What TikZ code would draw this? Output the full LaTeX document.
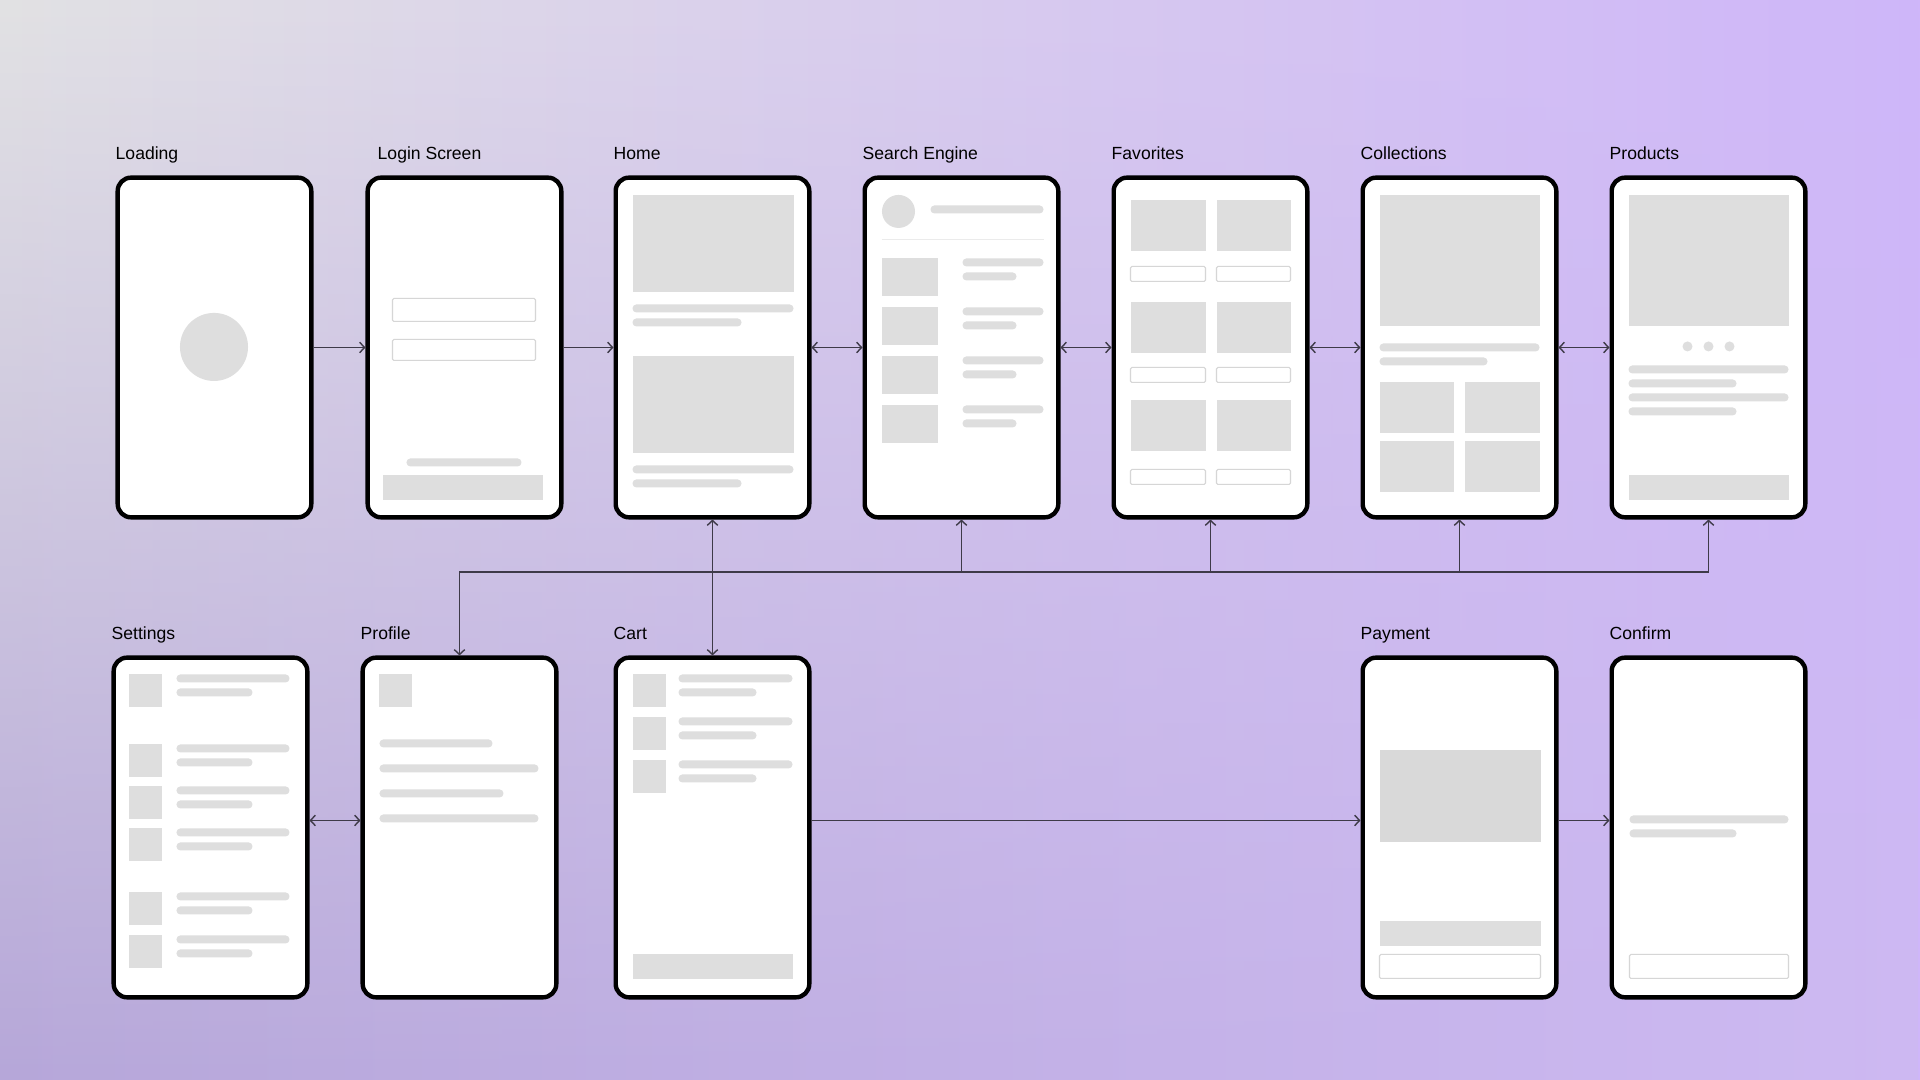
\documentclass[tikz,border=0pt]{standalone}
\usepackage{fontspec}
\setmainfont{Liberation Sans}
\usetikzlibrary{positioning,fadings,arrows.meta}

\definecolor{bgTL}{RGB}{226,226,228}
\definecolor{bgTR}{RGB}{207,182,250}
\definecolor{bgBL}{RGB}{182,167,217}
\definecolor{bgBR}{RGB}{205,185,242}
\definecolor{ph}{RGB}{222,222,222}
\definecolor{phdark}{RGB}{217,217,217}
\definecolor{phline}{RGB}{214,214,214}
\definecolor{wire}{RGB}{62,58,72}

\tikzset{
  screen/.style={draw=black, fill=white, line width=1.25pt, rounded corners=3.8pt,
    minimum width=1.935cm, minimum height=3.395cm, inner sep=0pt},
  title/.style={anchor=base west, inner sep=0pt, font=\fontsize{5pt}{6pt}\selectfont},
  block/.style={fill=ph},
  pill/.style={fill=ph, rounded corners=1.1pt},
  field/.style={draw=phline, fill=white, line width=0.3pt, rounded corners=0.4pt},
  wire/.style={draw=wire, line width=0.4pt, >={Straight Barb[length=1.4pt,width=3pt]}}
}

\begin{document}
\begin{tikzpicture}[x=0.01cm, y=-0.01cm]
    % Canvas and background gradient
    \useasboundingbox (0,0) rectangle (1920,1080);
    \shade[left color=bgTL, right color=bgTR] (0,0) rectangle (1920,1080);
    \shade[left color=bgBL, right color=bgBR, path fading=north] (0,0) rectangle (1920,1080);

    % Screen frames with titles
    \foreach \name/\lbl/\x/\y/\dx in {
        loading/Loading/116/176/0, login/Login Screen/366/176/12, home/Home/614/176/0,
        search/Search Engine/863/176/0, favorites/Favorites/1112/176/0,
        collections/Collections/1361/176/0, products/Products/1610/176/0,
        settings/Settings/112/656/0, profile/Profile/361/656/0, cart/Cart/614/656/0,
        payment/Payment/1361/656/0, confirm/Confirm/1610/656/0}{
        \node[screen] (\name) at (\x+98.5,\y+171.5) {};
        \node[title] at (\x+\dx-1,\y-16) {\lbl};
    }

    % Loading
    \fill[ph] ([shift={(98.5,171.5)}]loading.north west) circle[radius=0.34cm];

    % Login Screen
    \begin{scope}[shift={(login.north west)}]
        \draw[field] (27,123) rectangle (170,146);
        \draw[field] (27,164) rectangle (170,185);
        \fill[pill] (41,283) rectangle (156,291);
        \fill[block] (18,300) rectangle (178,325);
    \end{scope}

    % Home
    \begin{scope}[shift={(home.north west)}]
        \fill[block] (19,20) rectangle (180,117);
        \fill[pill] (19,129) rectangle (180,137);
        \fill[pill] (19,143) rectangle (128,151);
        \fill[block] (19,181) rectangle (180,278);
        \fill[pill] (19,290) rectangle (180,298);
        \fill[pill] (19,304) rectangle (128,312);
    \end{scope}

    % Search Engine
    \begin{scope}[shift={(search.north west)}]
        \fill[ph] (36,36) circle[radius=0.165cm];
        \fill[pill] (68,30) rectangle (181,38);
        \draw[ph!60, line width=0.5pt] (19,64) -- (181,64);
        \foreach \t in {83,132,181,230}{
            \fill[block] (19,\t) rectangle (75,\t+38);
            \fill[pill] (100,\t) rectangle (181,\t+8);
            \fill[pill] (100,\t+14) rectangle (154,\t+22);
        }
    \end{scope}

    % Favorites
    \begin{scope}[shift={(favorites.north west)}]
        \foreach \t/\b in {25/91, 127/192, 225/294}{
            \fill[block] (19,\t) rectangle (94,\t+51);
            \fill[block] (105,\t) rectangle (179,\t+51);
            \draw[field] (19,\b) rectangle (94,\b+15);
            \draw[field] (105,\b) rectangle (179,\b+15);
        }
    \end{scope}

    % Collections
    \begin{scope}[shift={(collections.north west)}]
        \fill[block] (19,20) rectangle (179,151);
        \fill[pill] (19,168) rectangle (179,176);
        \fill[pill] (19,182) rectangle (127,190);
        \foreach \t in {207,266}{
            \fill[block] (19,\t) rectangle (93,\t+51);
            \fill[block] (104,\t) rectangle (179,\t+51);
        }
    \end{scope}

    % Products
    \begin{scope}[shift={(products.north west)}]
        \fill[block] (19,20) rectangle (179,151);
        \foreach \d in {78,99,120}{
            \fill[ph] (\d,171) circle[radius=0.05cm];
        }
        \fill[pill] (19,190) rectangle (179,198);
        \fill[pill] (19,204) rectangle (127,212);
        \fill[pill] (19,218) rectangle (179,226);
        \fill[pill] (19,232) rectangle (127,240);
        \fill[block] (19,300) rectangle (179,325);
    \end{scope}

    % Settings
    \begin{scope}[shift={(settings.north west)}]
        \foreach \t in {19,89,131,173,237,280}{
            \fill[block] (18,\t) rectangle (51,\t+33);
            \fill[pill] (65,\t) rectangle (178,\t+8);
            \fill[pill] (65,\t+14) rectangle (141,\t+22);
        }
    \end{scope}

    % Profile
    \begin{scope}[shift={(profile.north west)}]
        \fill[block] (19,19) rectangle (52,52);
        \fill[pill] (19,84) rectangle (132,92);
        \fill[pill] (19,109) rectangle (178,117);
        \fill[pill] (19,134) rectangle (143,142);
        \fill[pill] (19,159) rectangle (178,167);
    \end{scope}

    % Cart
    \begin{scope}[shift={(cart.north west)}]
        \foreach \t in {19,62,105}{
            \fill[block] (19,\t) rectangle (52,\t+33);
            \fill[pill] (65,\t) rectangle (179,\t+8);
            \fill[pill] (65,\t+14) rectangle (143,\t+22);
        }
        \fill[block] (19,299) rectangle (179,324);
    \end{scope}

    % Payment
    \begin{scope}[shift={(payment.north west)}]
        \fill[phdark] (19,95) rectangle (180,187);
        \fill[block] (19,266) rectangle (180,291);
        \draw[field] (19,299) rectangle (180,323);
    \end{scope}

    % Confirm
    \begin{scope}[shift={(confirm.north west)}]
        \fill[pill] (20,160) rectangle (179,168);
        \fill[pill] (20,174) rectangle (127,182);
        \draw[field] (20,299) rectangle (179,323);
    \end{scope}

    % Top row flow
    \draw[wire,->] (loading) -- (login);
    \draw[wire,->] (login) -- (home);
    \foreach \a/\b in {home/search, search/favorites, favorites/collections, collections/products}{
        \draw[wire,<->] (\a) -- (\b);
    }

    % Shared bus below the top row
    \coordinate (bus) at (0,572);
    \draw[wire,->] (products.south |- bus) -| (profile.north);
    \foreach \s in {home,search,favorites,collections,products}{
        \draw[wire,->] (\s.south |- bus) -- (\s.south);
    }
    \draw[wire,->] (home.south |- bus) -- (cart.north);

    % Bottom row flow
    \draw[wire,<->] ([yshift=2pt]settings.east) -- ([yshift=2pt]profile.west);
    \draw[wire,->] ([yshift=2pt]cart.east) -- ([yshift=2pt]payment.west);
    \draw[wire,->] ([yshift=2pt]payment.east) -- ([yshift=2pt]confirm.west);
\end{tikzpicture}
\end{document}
